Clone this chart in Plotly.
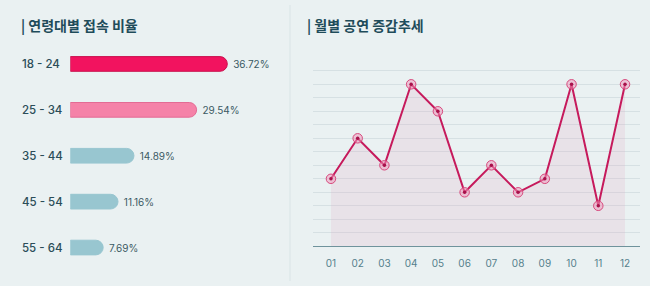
import plotly.graph_objects as go

# ---- data ----
age_groups = ["18 - 24", "25 - 34", "35 - 44", "45 - 54", "55 - 64"]
age_share = [36.72, 29.54, 14.89, 11.16, 7.69]
bar_colors = ["#f2135f", "#f582a8", "#98c6d0", "#98c6d0", "#98c6d0"]
bar_edges = ["#c8104d", "#e36b94", "#98c6d0", "#98c6d0", "#98c6d0"]

months = ["01", "02", "03", "04", "05", "06", "07", "08", "09", "10", "11", "12"]
shows = [5, 8, 6, 12, 10, 4, 6, 4, 5, 12, 3, 12]

left_title = "| 연령대별 접속 비율"
right_title = "| 월별 공연 증감추세"

W, H = 650, 286
BG = "#eaf1f2"
FONT = "Noto Sans CJK KR"
LATIN = "Inter, Noto Sans CJK KR"

def px(x):
    return x / W

def py(y):
    return 1 - y / H

fig = go.Figure()

# ---- left: horizontal bars ----
fig.add_trace(go.Bar(
    x=age_share, y=age_groups, orientation="h",
    marker=dict(color=bar_colors, line=dict(color=bar_edges, width=1)),
    text=[f" {v:.2f}%" for v in age_share],
    textposition="outside",
    textfont=dict(size=10, color="#3b5a64", family=LATIN),
    cliponaxis=False,
    xaxis="x", yaxis="y",
    hoverinfo="skip",
))

# ---- right: line with area ----
fig.add_trace(go.Scatter(
    x=months, y=shows, mode="lines",
    line=dict(color="#c61a5c", width=2),
    fill="tozeroy", fillcolor="rgba(225,160,190,0.18)",
    xaxis="x2", yaxis="y2", hoverinfo="skip",
))
fig.add_trace(go.Scatter(
    x=months, y=shows, mode="markers",
    marker=dict(size=9.5, color="rgba(240,150,185,0.5)",
                line=dict(color="#d84a7e", width=1)),
    xaxis="x2", yaxis="y2", hoverinfo="skip", cliponaxis=False,
))
fig.add_trace(go.Scatter(
    x=months, y=shows, mode="markers",
    marker=dict(size=3.5, color="#a8114a"),
    xaxis="x2", yaxis="y2", hoverinfo="skip", cliponaxis=False,
))

annotations = []
# category labels on left
for g in age_groups:
    annotations.append(dict(
        x=px(20), y=g, xref="paper", yref="y", text=g, showarrow=False,
        xanchor="left", yanchor="middle",
        font=dict(size=11.5, color="#2b4d58", family=LATIN, weight=500),
    ))
# titles
annotations.append(dict(x=px(19), y=py(25), xref="paper", yref="paper",
                        text=f"<b>{left_title}</b>", showarrow=False,
                        xanchor="left", yanchor="middle",
                        font=dict(size=14, color="#1f4c5a", family=FONT)))
annotations.append(dict(x=px(305), y=py(25), xref="paper", yref="paper",
                        text=f"<b>{right_title}</b>", showarrow=False,
                        xanchor="left", yanchor="middle",
                        font=dict(size=14, color="#1f4c5a", family=FONT)))

bar_x0 = 70.3
bar_x1 = 286
scale = 4.276

fig.update_layout(
    width=W, height=H,
    margin=dict(l=0, r=0, t=0, b=0),
    paper_bgcolor=BG, plot_bgcolor=BG,
    showlegend=False,
    bargap=0.68,
    barcornerradius=8,
    annotations=annotations,
    shapes=[dict(type="line", xref="paper", yref="paper",
                 x0=px(290), x1=px(290), y0=py(5), y1=py(281),
                 line=dict(color="#d9e4e6", width=1))],
    xaxis=dict(domain=[px(bar_x0), px(bar_x1)],
               range=[0, (bar_x1 - bar_x0) / scale],
               visible=False, fixedrange=True),
    yaxis=dict(domain=[py(270.5), py(41)],
               type="category", categoryorder="array", categoryarray=age_groups,
               range=[4.5, -0.5], visible=False),
    xaxis2=dict(domain=[px(313.3), px(640)], anchor="y2",
                type="category", categoryorder="array", categoryarray=months,
                range=[-0.66, 11.56],
                showgrid=False, showline=True, linecolor="#6f939c", linewidth=1,
                ticks="outside", ticklen=8, tickcolor="rgba(0,0,0,0)",
                tickfont=dict(size=10, color="#55808c", family=LATIN)),
    yaxis2=dict(domain=[py(246.3), py(57.3)], anchor="x2",
                range=[0, 14], dtick=1, showticklabels=False,
                showgrid=True, gridcolor="#d6e0e3", gridwidth=1,
                zeroline=False),
)

fig.write_html("out.html", config={"displayModeBar": False},
               post_script="document.body.style.margin='0';document.body.style.background='" + BG + "';")
